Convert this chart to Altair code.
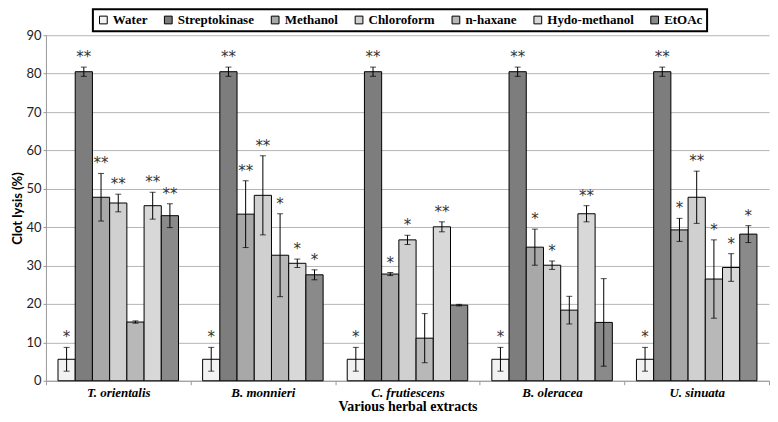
import altair as alt
import pandas as pd

extracts = ["T. orientalis", "B. monnieri", "C. frutiescens", "B. oleracea", "U. sinuata"]
solvents = ["Water", "Streptokinase", "Methanol", "Chloroform", "n-haxane", "Hydo-methanol", "EtOAc"]

water = [5.6, 5.6, 5.6, 5.6, 5.6]
water_err = [3.1, 3.1, 3.1, 3.1, 3.1]
water_sig = ["*", "*", "*", "*", "*"]

strep = [80.5, 80.5, 80.5, 80.5, 80.5]
strep_err = [1.2, 1.2, 1.2, 1.2, 1.2]
strep_sig = ["**", "**", "**", "**", "**"]

methanol = [47.8, 43.4, 27.8, 34.8, 39.3]
methanol_err = [6.2, 8.7, 0.4, 4.7, 3.0]
methanol_sig = ["**", "**", "*", "*", "*"]

chloroform = [46.3, 48.3, 36.7, 30.1, 47.8]
chloroform_err = [2.3, 10.3, 1.2, 1.1, 6.8]
chloroform_sig = ["**", "**", "*", "*", "**"]

nhaxane = [15.3, 32.7, 11.1, 18.4, 26.5]
nhaxane_err = [0.3, 10.8, 6.4, 3.6, 10.2]
nhaxane_sig = ["", "*", "", "", "*"]

hydomethanol = [45.6, 30.6, 40.1, 43.5, 29.5]
hydomethanol_err = [3.5, 1.1, 1.3, 2.1, 3.6]
hydomethanol_sig = ["**", "*", "**", "**", "*"]

etoac = [43.0, 27.6, 19.7, 15.2, 38.2]
etoac_err = [3.1, 1.3, 0.2, 11.4, 2.2]
etoac_sig = ["**", "*", "", "", "*"]

y_ticks = [0, 10, 20, 30, 40, 50, 60, 70, 80, 90]

fills = ["#f2f2f2", "#7d7d7d", "#a8a8a8", "#d0d0d0", "#b8b8b8", "#d8d8d8", "#8a8a8a"]

series = [
    (water, water_err, water_sig),
    (strep, strep_err, strep_sig),
    (methanol, methanol_err, methanol_sig),
    (chloroform, chloroform_err, chloroform_sig),
    (nhaxane, nhaxane_err, nhaxane_sig),
    (hydomethanol, hydomethanol_err, hydomethanol_sig),
    (etoac, etoac_err, etoac_sig),
]

rows = []
for s, (vals, errs, sigs) in zip(solvents, series):
    for e, v, er, sg in zip(extracts, vals, errs, sigs):
        rows.append({"extract": e, "solvent": s, "value": v,
                     "lo": v - er, "hi": v + er, "sig": sg})
df = pd.DataFrame(rows)

x_enc = alt.X("extract:N", sort=extracts,
              scale=alt.Scale(paddingInner=0, paddingOuter=0),
              axis=alt.Axis(title="Various herbal extracts", labelAngle=0,
                            tickBand="extent", grid=False,
                            domainColor="#999999", tickColor="#999999", tickSize=4,
                            labelFont="Liberation Serif", labelFontStyle="italic",
                            labelFontWeight="bold", labelFontSize=13, labelColor="#000000",
                            labelPadding=2,
                            titleFont="Liberation Serif", titleFontWeight="bold",
                            titleFontSize=14, titleColor="#000000", titlePadding=0))
xo_enc = alt.XOffset("solvent:N", sort=solvents,
                     scale=alt.Scale(domain=solvents, paddingInner=0, paddingOuter=0.7))

y_scale = alt.Scale(domain=[0, 90], nice=False)
y_axis = alt.Axis(title="Clot lysis (%)", values=y_ticks, labelOverlap=False,
                  gridColor="#b5b5b5", domainColor="#999999", tickColor="#999999",
                  tickSize=3, labelFont="Lato", labelFontSize=13,
                  labelColor="#222222", labelPadding=2,
                  titleFont="Lato", titleFontSize=13, titleFontWeight="bold",
                  titleColor="#000000", titlePadding=1)

base = alt.Chart(df).encode(x=x_enc, xOffset=xo_enc)

bars = base.mark_bar(stroke="#000000", strokeWidth=1).encode(
    y=alt.Y("value:Q", scale=y_scale, axis=y_axis),
    color=alt.Color("solvent:N", sort=solvents,
                    scale=alt.Scale(domain=solvents, range=fills),
                    legend=alt.Legend(title=None, orient="none", direction="horizontal",
                                      legendX=47, legendY=-26,
                                      symbolType="square", symbolSize=60,
                                      symbolStrokeColor="#000000", symbolStrokeWidth=1,
                                      labelFont="Liberation Serif", labelFontWeight="bold",
                                      labelFontSize=13, labelColor="#000000",
                                      labelOffset=3, columnPadding=14,
                                      padding=4, strokeColor="#000000",
                                      fillColor="#ffffff")),
)

rules = base.mark_rule(color="#000000", strokeWidth=1).encode(
    y=alt.Y("lo:Q", scale=y_scale, axis=y_axis), y2="hi:Q")
cap_lo = base.mark_tick(color="#000000", orient="horizontal", size=6, thickness=1).encode(
    y=alt.Y("lo:Q", scale=y_scale, axis=y_axis))
cap_hi = base.mark_tick(color="#000000", orient="horizontal", size=6, thickness=1).encode(
    y=alt.Y("hi:Q", scale=y_scale, axis=y_axis))
stars = base.mark_text(baseline="bottom", dy=-2, fontSize=15, font="DejaVu Sans",
                       color="#333333").encode(
    y=alt.Y("hi:Q", scale=y_scale, axis=y_axis), text="sig:N")

chart = alt.layer(bars, rules, cap_lo, cap_hi, stars).properties(
    width=724, height=346, padding={"left": 3, "top": 0, "right": 0, "bottom": 0}
).configure_view(stroke=None).configure_legend(strokeWidth=2)

chart.save("out.html", embed_options={"renderer": "svg", "actions": False})
